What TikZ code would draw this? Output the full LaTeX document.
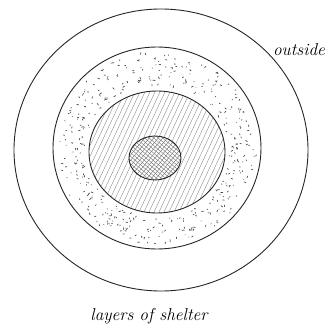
\documentclass[tikz,border=0pt]{standalone}
\usetikzlibrary{calc}

\tikzset{
  ring/.style={line width=0.9pt, black!85},
  hatch/.style={line width=0.35pt, black!50},
  cross/.style={line width=0.35pt, black!60},
  speck/.style={line width=0.7pt, black!70, line cap=round},
  label/.style={font=\LARGE\itshape, inner sep=0pt}
}

\begin{document}
\begin{tikzpicture}[x=1pt,y=-1pt]
\useasboundingbox (0,0) rectangle (330,324);
% hatched layer
\begin{scope}
\clip (157,152) ellipse (68 and 61);
\foreach \k in {-30,...,30}
  \draw[hatch] ($(157,152)+(\k*5,0)$) ++(-65:-100) -- ++(-65:200);
\end{scope}
% core
\fill[white] (155,158) ellipse (26 and 22);
\begin{scope}
\clip (155,158) ellipse (26 and 22);
\foreach \k in {-12,...,12} {
  \draw[cross] ($(155,158)+(\k*4.5,0)$) ++(40:-50) -- ++(40:100);
  \draw[cross] ($(155,158)+(\k*4.5,0)$) ++(-50:-50) -- ++(-50:100);
}
\end{scope}
% stipple between the middle rings
\pgfmathsetseed{11}
\foreach \i in {1,...,420} {
  \pgfmathsetmacro\ang{360*rnd}
  \pgfmathsetmacro\tt{0.12+0.76*rnd}
  \pgfmathsetmacro\px{(1-\tt)*(157+68*cos(\ang))+\tt*(157+104*cos(\ang))}
  \pgfmathsetmacro\py{(1-\tt)*(152+61*sin(\ang))+\tt*(148+101*sin(\ang))}
  \pgfmathsetmacro\dir{360*rnd}
  \pgfmathsetmacro\len{0.3+1.8*rnd}
  \draw[speck] (\px,\py) -- ++(\dir:\len);
}
% the layers
\draw[ring] (161,150) ellipse (147 and 141);
\draw[ring] (157,148) ellipse (104 and 101);
\draw[ring] (157,152) ellipse (68 and 61);
\draw[ring] (155,158) ellipse (26 and 22);
% labels
\node[label] (outside) at (299,50) {outside};
\node[label] (layers) at (149,316) {layers of shelter};
\end{tikzpicture}
\end{document}
